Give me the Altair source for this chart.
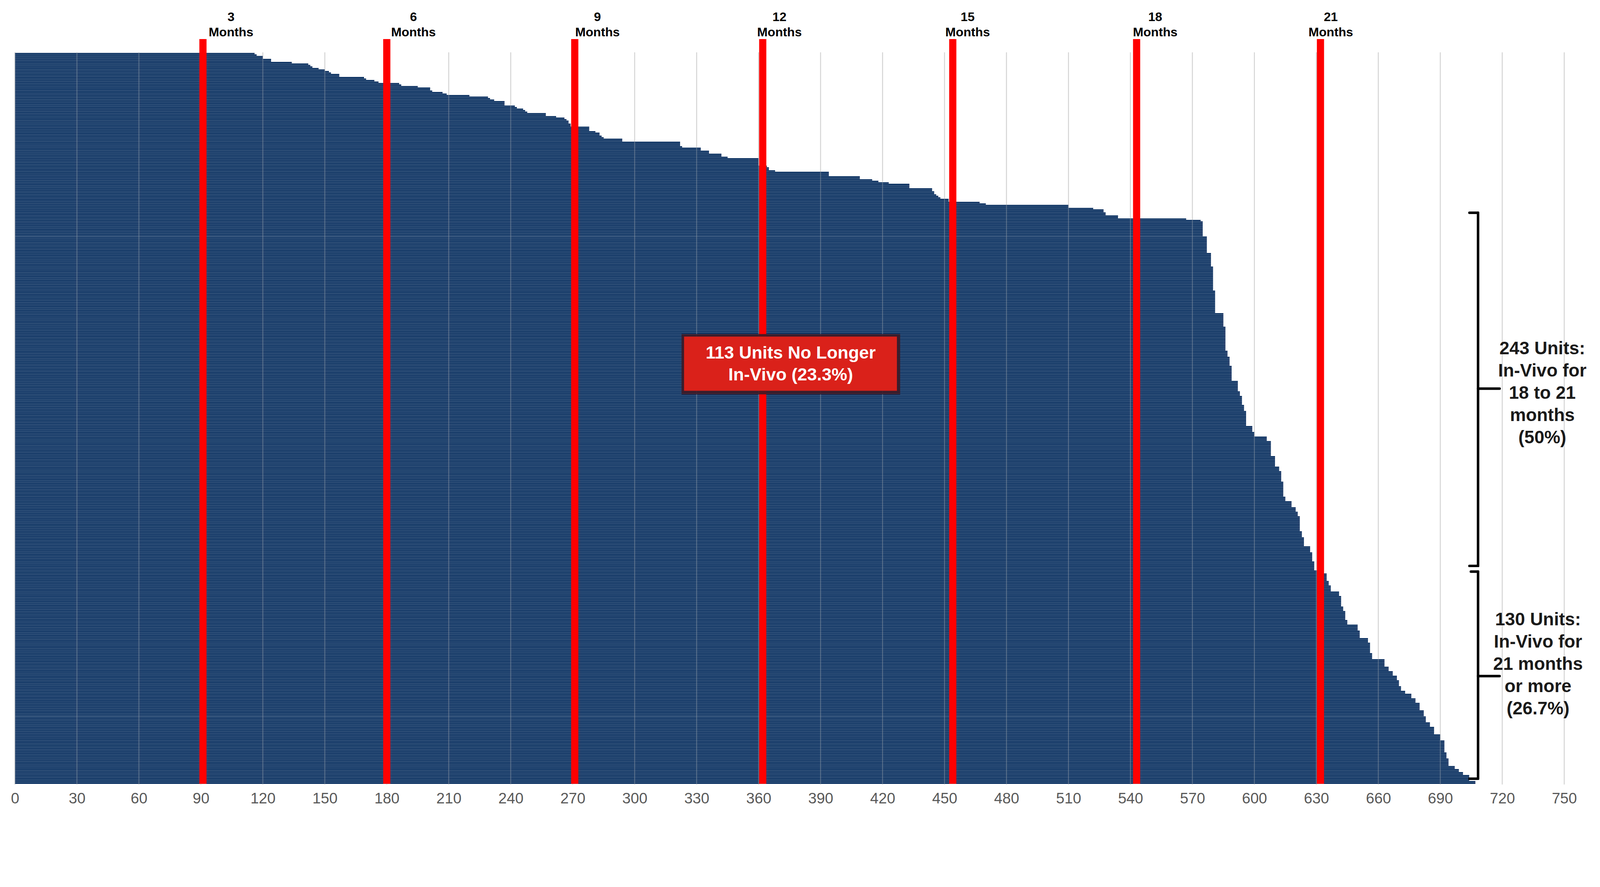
import altair as alt
import pandas as pd

# ---- data -----------------------------------------------------------------
# Days in-vivo of the units no longer in-vivo (top rows, one value per unit)
failed_days = [
    116, 117, 120, 120, 124, 124, 134, 142, 143, 144,
    147, 150, 152, 153, 157, 157, 169, 170, 174, 176,
    186, 187, 195, 201, 201, 202, 207, 209, 220, 229,
    230, 232, 237, 237, 237, 242, 243, 246, 247, 248,
    257, 257, 262, 266, 267, 268, 268, 269, 269, 278,
    278, 278, 281, 283, 283, 284, 285, 294, 294, 322,
    322, 322, 323, 332, 332, 336, 336, 342, 342, 345,
    360, 360, 360, 360, 360, 364, 365, 365, 368, 394,
    394, 394, 409, 409, 415, 418, 423, 433, 433, 433,
    444, 444, 445, 445, 446, 447, 448, 452, 452, 467,
    470, 510, 510, 522, 527, 527, 528, 528, 534, 534,
    567, 574, 575,
]
# Remaining units: days in-vivo and how many consecutive units share that value
steady_days = [575, 577, 579, 580, 581, 585, 586, 587, 588, 589,
               592, 593, 594, 595, 596, 599, 600, 606, 608, 610,
               612, 613, 614, 615, 618, 620, 621, 622, 623, 624,
               627, 628, 629, 632, 635, 636, 637, 641, 642, 643,
               644, 645, 650, 651, 655, 656, 657, 663, 665, 667,
               669, 670, 671, 673, 676, 678, 680, 682, 683, 685,
               687, 690, 692, 693, 694, 697, 699, 701, 704, 707]
steady_counts = [9, 11, 9, 16, 15, 9, 16, 4, 6, 10,
                 7, 3, 6, 4, 10, 4, 3, 3, 10, 7,
                 3, 7, 10, 3, 4, 3, 3, 10, 4, 6,
                 4, 6, 6, 2, 5, 3, 4, 3, 7, 3,
                 6, 3, 4, 5, 3, 7, 4, 5, 3, 3,
                 3, 4, 3, 2, 3, 3, 5, 4, 4, 3,
                 5, 4, 8, 4, 5, 2, 2, 2, 4, 2]

# Month marker lines (day positions) and where their labels sit (day units)
month_numbers = ["3", "6", "9", "12", "15", "18", "21"]
month_days = [91, 180, 271, 362, 454, 543, 632]
month_label_days = [104.6, 192.9, 282.0, 370.1, 461.2, 552.0, 637.0]

tick_days = list(range(0, 751, 30))

box_lines = ["113 Units No Longer", "In-Vivo (23.3%)"]
bracket1_lines = ["243 Units:", "In-Vivo for", "18 to 21", "months", "(50%)"]
bracket2_lines = ["130 Units:", "In-Vivo for", "21 months", "or more", "(26.7%)"]

# ---- tables ---------------------------------------------------------------
all_days = list(failed_days)
for d, c in zip(steady_days, steady_counts):
    all_days += [d] * c
bars_df = pd.DataFrame({"unit": list(range(len(all_days))), "days": all_days})
lines_df = pd.DataFrame({"days": month_days})
labels_df = pd.DataFrame({"days": month_label_days, "num": month_numbers,
                          "word": ["Months"] * len(month_numbers)})
grid_df = pd.DataFrame({"days": tick_days})

FONT = "Liberation Sans"
W, H = 4316, 2040

xenc = alt.X(
    "days:Q",
    scale=alt.Scale(domain=[0, 750], nice=False, zero=True),
    axis=alt.Axis(
        values=tick_days, grid=False, ticks=False, domain=False,
        labelFontSize=42, labelColor="#595959", labelFont=FONT,
        labelPadding=19, labelFlush=False, labelOverlap=False,
        title=None,
    ),
)

grid_under = alt.Chart(grid_df).mark_rule(color="#D9D9D9", strokeWidth=2.5).encode(x=xenc)

bars = alt.Chart(bars_df).mark_bar(color="#00285A").encode(
    x=xenc,
    y=alt.Y("unit:O", axis=None,
            scale=alt.Scale(paddingInner=0.13, paddingOuter=0.4, round=False)),
)

grid_over = alt.Chart(grid_df).mark_rule(color="#C8C8C8", strokeWidth=2.5, opacity=0.35).encode(x=xenc)

red_lines = alt.Chart(lines_df).mark_rule(color="#FF0000", strokeWidth=20).encode(
    x=xenc, y=alt.value(-37), y2=alt.value(2038)
)

month_num = alt.Chart(labels_df).mark_text(
    align="center", baseline="middle", fontSize=35, fontWeight="bold",
    font=FONT, color="#000000",
).encode(x=xenc, y=alt.value(-98), text="num:N")
month_word = alt.Chart(labels_df).mark_text(
    align="center", baseline="middle", fontSize=35, fontWeight="bold",
    font=FONT, color="#000000",
).encode(x=xenc, y=alt.value(-55), text="word:N")

one = alt.Data(values=[{}])


def rect(x1, x2, y1, y2, **kw):
    return alt.Chart(one).mark_rect(**kw).encode(
        x=alt.value(x1), x2=alt.value(x2), y=alt.value(y1), y2=alt.value(y2)
    )


def seg(x1, x2, y1, y2):
    return alt.Chart(one).mark_rule(color="#000000", strokeWidth=7, strokeCap="round").encode(
        x=alt.value(x1), x2=alt.value(x2), y=alt.value(y1), y2=alt.value(y2)
    )


def text_block(lines, x, y0, step, size, color):
    layers = []
    for i, s in enumerate(lines):
        layers.append(alt.Chart(one).mark_text(
            align="center", baseline="middle", fontSize=size, fontWeight="bold",
            font=FONT, color=color,
        ).encode(x=alt.value(x), y=alt.value(y0 + i * step), text=alt.value(s)))
    return layers


box_shadow = rect(1857, 2466, 785, 953, color="#3D1A26", opacity=0.9)
box = rect(1864, 2457, 792, 943, color="#DA211A")
box_text = text_block(box_lines, 2161, 838, 61, 49, "#FFFFFF")

brackets = [
    seg(4076, 4076, 447, 1431), seg(4052, 4076, 447, 447), seg(4052, 4076, 1431, 1431),
    seg(4076, 4136, 937, 937),
    seg(4076, 4076, 1447, 2024), seg(4056, 4076, 1447, 1447), seg(4052, 4076, 2024, 2024),
    seg(4076, 4136, 1738, 1738),
]

b1_text = text_block(bracket1_lines, 4255, 826, 62, 50, "#1A1A1A")
b2_text = text_block(bracket2_lines, 4243, 1582, 62, 50, "#1A1A1A")

chart = alt.layer(
    grid_under, bars, grid_over, red_lines, month_num, month_word,
    box_shadow, box, *box_text, *brackets, *b1_text, *b2_text,
).properties(
    width=W, height=H,
    autosize=alt.AutoSizeParams(type="none"),
    padding={"left": 33, "top": 46, "right": 91, "bottom": -23},
    background="#FFFFFF",
).configure_view(stroke=None)

chart.save("out.html", embed_options={"renderer": "svg", "actions": False})
